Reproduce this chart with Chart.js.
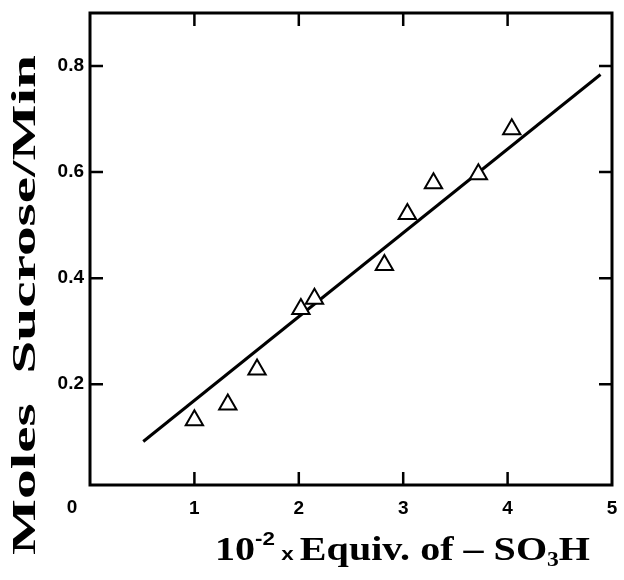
<!DOCTYPE html>
<html><head><meta charset="utf-8">
<script src="https://cdn.jsdelivr.net/npm/chart.js@4/dist/chart.umd.min.js"></script>
<style>html,body{margin:0;padding:0;background:#fff}#wrap{width:624px;height:580px}</style>
</head><body><div id="wrap"><canvas id="c" width="624" height="580"></canvas></div>
<script>
// ---- data ----
const xTicks = [0, 1, 2, 3, 4, 5];
const yTicks = [0.2, 0.4, 0.6, 0.8];
const sampleX = [1.0, 1.32, 1.6, 2.02, 2.15, 2.82, 3.04, 3.29, 3.72, 4.04];
const sampleY = [0.132, 0.162, 0.228, 0.342, 0.361, 0.425, 0.521, 0.579, 0.596, 0.681];
const fitX = [0.51, 4.89];
const fitY = [0.092, 0.784];
const yTitle = 'Moles  Sucrose/Min';
const cornerLabel = '0';

const SANS = '"Liberation Sans", Arial, sans-serif';
const SERIF = '"Liberation Serif", "Times New Roman", serif';

const framePlugin = {
  id: 'frame',
  afterDraw(chart) {
    const ctx = chart.ctx;
    const a = chart.chartArea;
    const xs = chart.scales.x, ys = chart.scales.y;
    ctx.save();
    ctx.strokeStyle = '#000';
    ctx.lineWidth = 3;
    ctx.strokeRect(a.left, a.top, a.right - a.left, a.bottom - a.top);
    // inward tick marks
    const tl = 13;
    ctx.lineWidth = 2.5;
    xTicks.forEach(v => {
      if (v <= 0 || v >= 5) return;
      const px = xs.getPixelForValue(v);
      ctx.beginPath();
      ctx.moveTo(px, a.bottom); ctx.lineTo(px, a.bottom - tl);
      ctx.moveTo(px, a.top); ctx.lineTo(px, a.top + tl);
      ctx.stroke();
    });
    yTicks.forEach(v => {
      const py = ys.getPixelForValue(v);
      ctx.beginPath();
      ctx.moveTo(a.left, py); ctx.lineTo(a.left + tl, py);
      ctx.moveTo(a.right, py); ctx.lineTo(a.right - tl, py);
      ctx.stroke();
    });
    // corner "0"
    ctx.fillStyle = '#000';
    ctx.font = 'bold 19px ' + SANS;
    ctx.textAlign = 'center';
    ctx.textBaseline = 'middle';
    ctx.fillText(cornerLabel, a.left - 18, a.bottom + 23);

    // y title
    ctx.save();
    ctx.translate(26, 305);
    ctx.rotate(-Math.PI / 2);
    ctx.font = 'bold 33px ' + SERIF;
    const w = ctx.measureText(yTitle).width;
    ctx.scale(500 / w, 1);
    ctx.textAlign = 'center';
    ctx.textBaseline = 'middle';
    ctx.fillText(yTitle, 0, 0);
    ctx.restore();

    // x title
    const big = 'bold 34px ' + SERIF;
    const parts = [
      { t: '10', f: big, dy: 0 },
      { t: '-2', f: 'bold 19px ' + SANS, dy: -15 },
      { t: ' x ', f: 'bold 19px ' + SANS, dy: 0 },
      { t: 'Equiv. of ', f: big, dy: 0 },
      { t: '\u2013 ', f: big, dy: 0 },
      { t: 'SO', f: big, dy: 0 },
      { t: '3', f: 'bold 20px ' + SERIF, dy: 6 },
      { t: 'H', f: big, dy: 0 }
    ];
    let total = 0;
    parts.forEach(p => { ctx.font = p.f; p.w = ctx.measureText(p.t).width; total += p.w; });
    ctx.save();
    ctx.translate(215, 560);
    ctx.scale(375 / total, 1);
    ctx.textAlign = 'left';
    ctx.textBaseline = 'alphabetic';
    let cx = 0;
    parts.forEach(p => { ctx.font = p.f; ctx.fillText(p.t, cx, p.dy); cx += p.w; });
    ctx.restore();
    ctx.restore();
  }
};

new Chart(document.getElementById('c'), {
  type: 'scatter',
  data: {
    datasets: [
      {
        data: sampleX.map((x, i) => ({ x: x, y: sampleY[i] })),
        pointStyle: 'triangle',
        pointRadius: 10,
        pointBackgroundColor: '#fff',
        pointBorderColor: '#000',
        pointBorderWidth: 2,
        order: 0
      },
      {
        data: fitX.map((x, i) => ({ x: x, y: fitY[i] })),
        showLine: true,
        borderColor: '#000',
        borderWidth: 3,
        pointRadius: 0,
        fill: false,
        order: 1
      }
    ]
  },
  options: {
    responsive: false,
    animation: false,
    devicePixelRatio: 1,
    layout: { padding: { top: 13, right: 11, left: 0, bottom: 0 } },
    plugins: { legend: { display: false }, tooltip: { enabled: false } },
    scales: {
      x: {
        type: 'linear', min: 0, max: 5,
        afterBuildTicks: s => { s.ticks = xTicks.map(v => ({ value: v })); },
        ticks: {
          callback: v => (v === 0 ? '' : String(v)),
          font: { family: SANS, weight: 'bold', size: 19 },
          color: '#000', padding: 12, maxRotation: 0, autoSkip: false
        },
        grid: { display: false, drawTicks: false },
        border: { display: false },
        afterFit: s => { s.height = 95; s.paddingRight = 0; s.paddingLeft = 0; }
      },
      y: {
        type: 'linear', min: 0.01, max: 0.9,
        afterBuildTicks: s => { s.ticks = yTicks.map(v => ({ value: v })); },
        ticks: {
          callback: v => Number(v).toFixed(1),
          font: { family: SANS, weight: 'bold', size: 19 },
          color: '#000', padding: 6, autoSkip: false
        },
        grid: { display: false, drawTicks: false },
        border: { display: false },
        afterFit: s => { s.width = 90; s.paddingTop = 0; s.paddingBottom = 0; }
      }
    }
  },
  plugins: [framePlugin]
});
</script>
</body></html>
